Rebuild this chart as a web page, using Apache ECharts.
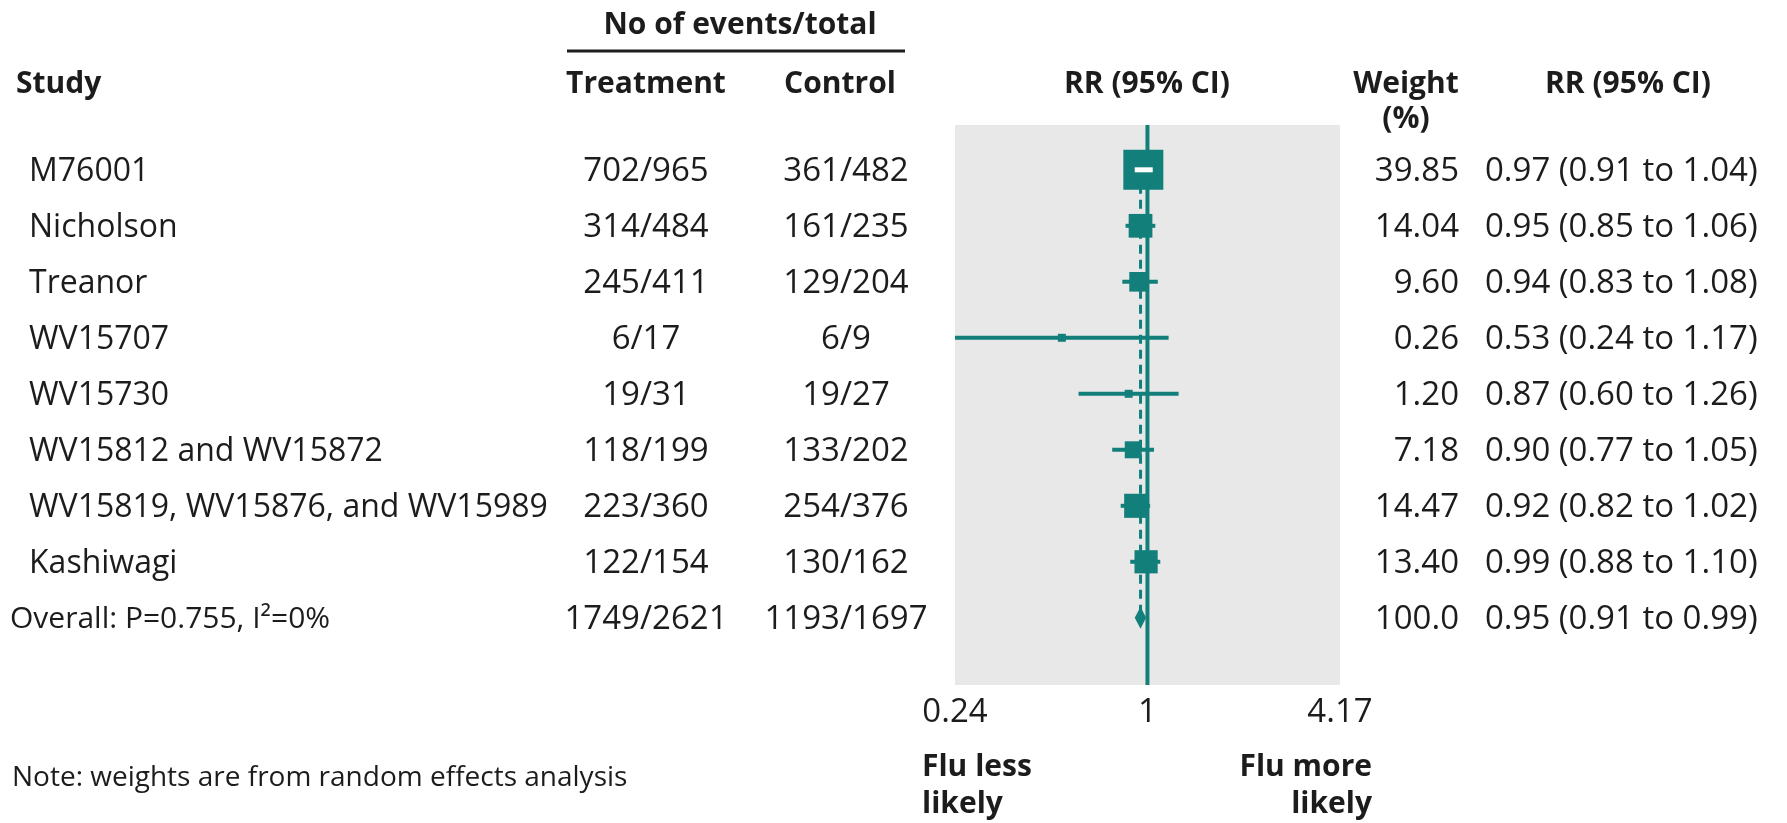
<!DOCTYPE html>
<html>
<head>
<meta charset="utf-8">
<script src="https://cdn.jsdelivr.net/npm/echarts@6/dist/echarts.min.js"></script>
<style>
  html, body { margin: 0; padding: 0; background: #ffffff; }
  #chart { width: 1787px; height: 823px; }
</style>
</head>
<body>
<div id="chart"></div>
<script>
// Oseltamivir trials: influenza outcome, risk ratio by study
const studies = ['M76001', 'Nicholson', 'Treanor', 'WV15707', 'WV15730',
  'WV15812 and WV15872', 'WV15819, WV15876, and WV15989', 'Kashiwagi'];
const treatment = ['702/965', '314/484', '245/411', '6/17', '19/31', '118/199', '223/360', '122/154'];
const control = ['361/482', '161/235', '129/204', '6/9', '19/27', '133/202', '254/376', '130/162'];
const weights = [39.85, 14.04, 9.60, 0.26, 1.20, 7.18, 14.47, 13.40];
const rr = [0.97, 0.95, 0.94, 0.53, 0.87, 0.90, 0.92, 0.99];
const lower = [0.91, 0.85, 0.83, 0.24, 0.60, 0.77, 0.82, 0.88];
const upper = [1.04, 1.06, 1.08, 1.17, 1.26, 1.05, 1.02, 1.10];

const overallLabel = 'Overall: P=0.755, I²=0%';
const overallTreatment = '1749/2621';
const overallControl = '1193/1697';
const overallWeight = '100.0';
const overallRR = [0.95, 0.91, 0.99];

const tickValues = [0.24, 1, 4.17];
const nullValue = 1;

const TEAL = '#127f7b';
const INK = '#1c1c1c';
const FONT = '"Open Sans", "Noto Sans", sans-serif';
const ROW_MIN = -0.8, ROW_MAX = 9.2;
const OVERALL_ROW = studies.length;
const TEXT_DY = 2;

const fmt = v => v.toFixed(2);
const ciText = (m, lo, hi) => `${fmt(m)} (${fmt(lo)} to ${fmt(hi)})`;

function text(x, y, str, extra) {
  return {
    type: 'text', x: x, y: y, silent: true,
    style: Object.assign({
      text: str, fill: INK, fontFamily: FONT, fontSize: 33,
      align: 'left', verticalAlign: 'middle'
    }, extra || {})
  };
}

const studyData = studies.map((s, i) => [rr[i], i, lower[i], upper[i], weights[i]]);
const rowData = studies.map((s, i) => [1, i]).concat([[1, OVERALL_ROW]]);

const chart = echarts.init(document.getElementById('chart'), null, { renderer: 'canvas' });

chart.setOption({
  animation: false,
  backgroundColor: '#ffffff',
  grid: { left: 955, top: 125, width: 385, height: 560, show: true,
          backgroundColor: '#e8e8e8', borderWidth: 0 },
  xAxis: { type: 'log', logBase: 10, min: 0.24, max: 4.17, show: false },
  yAxis: { type: 'value', inverse: true, min: ROW_MIN, max: ROW_MAX, show: false },
  graphic: [
    text(740, 25, 'No of events/total', { fontWeight: 'bold', fontSize: 30, align: 'center' }),
    { type: 'line', silent: true, shape: { x1: 567, y1: 51, x2: 905, y2: 51 },
      style: { stroke: INK, lineWidth: 3 } },
    text(16, 84, 'Study', { fontWeight: 'bold', fontSize: 30 }),
    text(646, 84, 'Treatment', { fontWeight: 'bold', fontSize: 30, align: 'center' }),
    text(840, 84, 'Control', { fontWeight: 'bold', fontSize: 30, align: 'center' }),
    text(1147, 84, 'RR (95% CI)', { fontWeight: 'bold', fontSize: 30, align: 'center' }),
    text(1406, 84, 'Weight', { fontWeight: 'bold', fontSize: 30, align: 'center' }),
    text(1406, 119, '(%)', { fontWeight: 'bold', fontSize: 30, align: 'center' }),
    text(1628, 84, 'RR (95% CI)', { fontWeight: 'bold', fontSize: 30, align: 'center' }),
    text(12, 778, 'Note: weights are from random effects analysis', { fontSize: 28 }),
    text(922, 767, 'Flu less', { fontWeight: 'bold', fontSize: 30 }),
    text(922, 804, 'likely', { fontWeight: 'bold', fontSize: 30 }),
    text(1372, 767, 'Flu more', { fontWeight: 'bold', fontSize: 30, align: 'right' }),
    text(1372, 804, 'likely', { fontWeight: 'bold', fontSize: 30, align: 'right' })
  ],
  series: [
    {
      // line of no effect
      type: 'custom', z: 1, silent: true,
      data: [[nullValue, ROW_MIN]],
      renderItem: function (params, api) {
        const a = api.coord([api.value(0), ROW_MIN]);
        const b = api.coord([api.value(0), ROW_MAX]);
        return { type: 'line', shape: { x1: a[0], y1: a[1], x2: b[0], y2: b[1] },
                 style: { stroke: TEAL, lineWidth: 4 } };
      }
    },
    {
      // pooled estimate, dashed
      type: 'custom', z: 2, silent: true,
      data: [[overallRR[0], 0]],
      renderItem: function (params, api) {
        const a = api.coord([api.value(0), 0]);
        const b = api.coord([api.value(0), OVERALL_ROW]);
        return { type: 'line', shape: { x1: a[0], y1: a[1], x2: b[0], y2: b[1] },
                 style: { stroke: TEAL, lineWidth: 3, lineDash: [9, 6] } };
      }
    },
    {
      // study estimates: CI line and weight-scaled box
      type: 'custom', z: 3, silent: true,
      encode: { x: [0, 2, 3], y: 1 },
      data: studyData,
      renderItem: function (params, api) {
        const c = api.coord([api.value(0), api.value(1)]);
        const lo = api.coord([api.value(2), api.value(1)]);
        const hi = api.coord([api.value(3), api.value(1)]);
        const size = Math.max(8, 40 * Math.sqrt(api.value(4) / 39.85));
        const inside = lo[0] >= c[0] - size / 2 && hi[0] <= c[0] + size / 2;
        const children = [];
        if (!inside) {
          children.push({ type: 'line', shape: { x1: lo[0], y1: c[1], x2: hi[0], y2: c[1] },
                          style: { stroke: TEAL, lineWidth: 4 } });
        }
        children.push({ type: 'rect',
          shape: { x: c[0] - size / 2, y: c[1] - size / 2, width: size, height: size },
          style: { fill: TEAL } });
        if (inside) {
          children.push({ type: 'line', shape: { x1: lo[0], y1: c[1], x2: hi[0], y2: c[1] },
                          style: { stroke: '#ffffff', lineWidth: 5 } });
        }
        return { type: 'group', children: children };
      }
    },
    {
      // pooled estimate diamond
      type: 'custom', z: 4, silent: true,
      encode: { x: [0, 2, 3], y: 1 },
      data: [[overallRR[0], OVERALL_ROW, overallRR[1], overallRR[2]]],
      renderItem: function (params, api) {
        const c = api.coord([api.value(0), api.value(1)]);
        const lo = api.coord([api.value(2), api.value(1)]);
        const hi = api.coord([api.value(3), api.value(1)]);
        const h = 11;
        return { type: 'polygon',
          shape: { points: [[lo[0], c[1]], [c[0], c[1] - h], [hi[0], c[1]], [c[0], c[1] + h]] },
          style: { fill: TEAL } };
      }
    },
    {
      // table columns
      type: 'custom', z: 5, silent: true, clip: false,
      data: rowData,
      renderItem: function (params, api) {
        const i = api.value(1);
        const y = api.coord([1, i])[1] + TEXT_DY;
        if (i === OVERALL_ROW) {
          return { type: 'group', children: [
            text(10, y, overallLabel, { fontSize: 30 }),
            text(646, y, overallTreatment, { align: 'center' }),
            text(846, y, overallControl, { align: 'center' }),
            text(1459, y, overallWeight, { align: 'right' }),
            text(1485, y, ciText(overallRR[0], overallRR[1], overallRR[2]))
          ] };
        }
        return { type: 'group', children: [
          text(29, y, studies[i], { fontSize: 32 }),
          text(646, y, treatment[i], { align: 'center' }),
          text(846, y, control[i], { align: 'center' }),
          text(1459, y, fmt(weights[i]), { align: 'right' }),
          text(1485, y, ciText(rr[i], lower[i], upper[i]))
        ] };
      }
    },
    {
      // axis tick labels at the plotted range ends and the null value
      type: 'custom', z: 5, silent: true, clip: false,
      data: tickValues.map(v => [v, ROW_MAX]),
      renderItem: function (params, api) {
        const p = api.coord([api.value(0), ROW_MAX]);
        return text(p[0], 713, String(api.value(0)), { align: 'center' });
      }
    }
  ]
});
</script>
</body>
</html>
